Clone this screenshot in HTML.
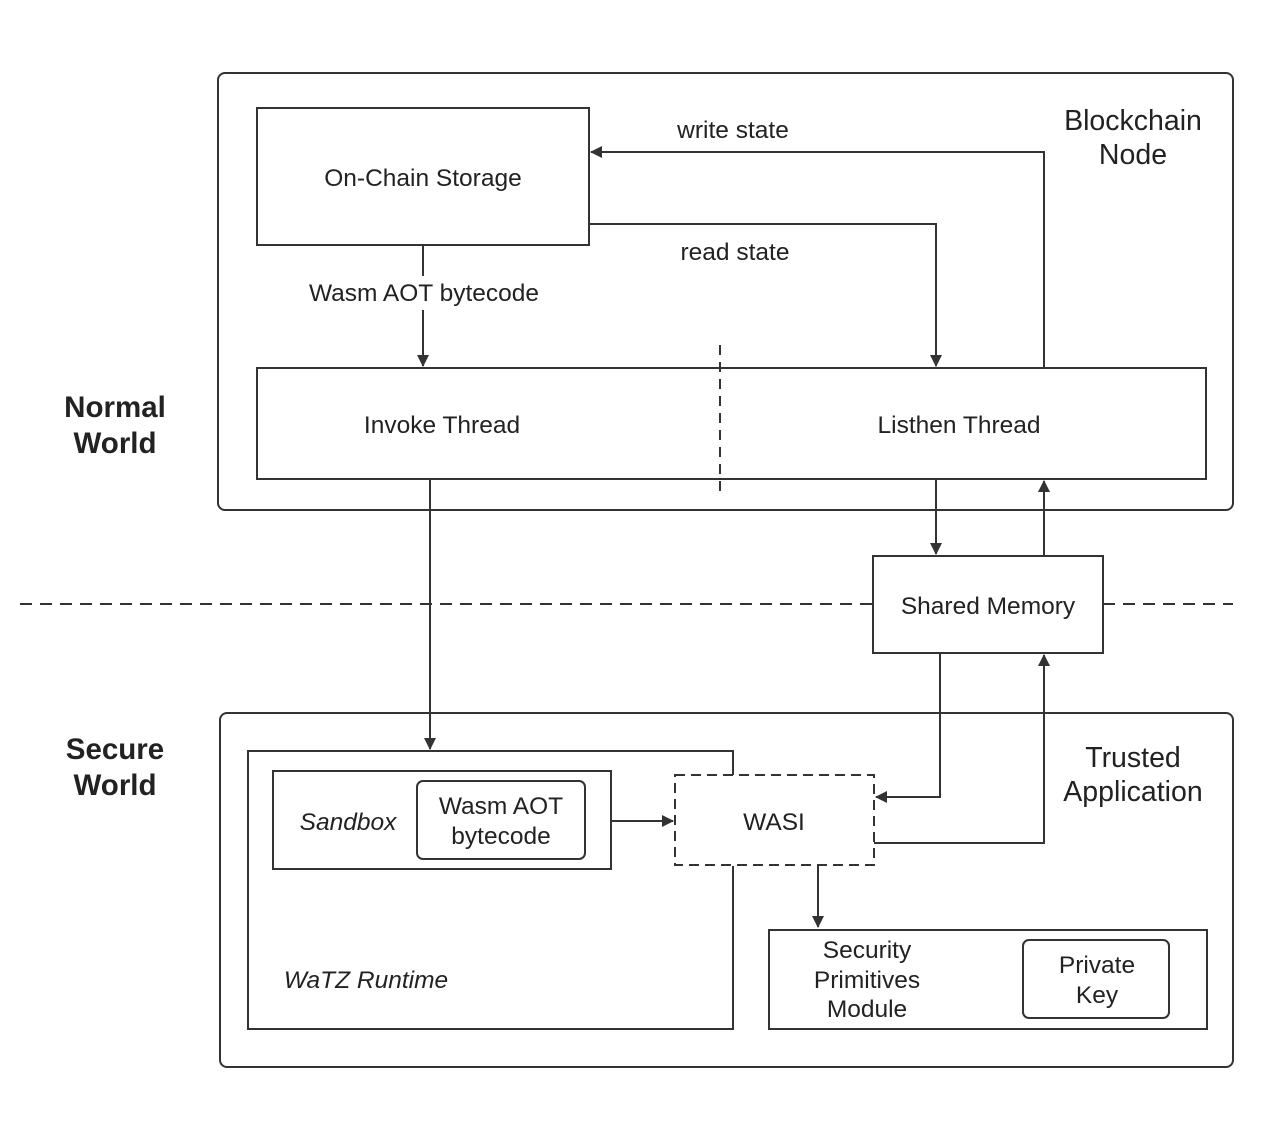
<!DOCTYPE html>
<html><head><meta charset="utf-8"><style>body{margin:0;background:#fff}svg{display:block}text{font-family:"Liberation Sans","DejaVu Sans",sans-serif;fill:#222}</style></head><body>
<svg width="1288" height="1124" viewBox="0 0 1288 1124" xmlns="http://www.w3.org/2000/svg">
<defs><marker id="a" markerWidth="12" markerHeight="12" refX="11" refY="6" orient="auto" markerUnits="userSpaceOnUse"><path d="M0,0 L12,6 L0,12 z" fill="#333"/></marker></defs>
<g fill="none" stroke="#333" stroke-width="2">
<rect x="218" y="73" width="1015" height="437" rx="7"/>
<rect x="257" y="108" width="332" height="137"/>
<rect x="257" y="368" width="949" height="111"/>
<line x1="720" y1="345" x2="720" y2="492" stroke-dasharray="10,7"/>
<polyline points="1044,368 1044,152 591,152" marker-end="url(#a)"/>
<polyline points="589,224 936,224 936,366" marker-end="url(#a)"/>
<line x1="423" y1="245" x2="423" y2="276"/>
<line x1="423" y1="310" x2="423" y2="366" marker-end="url(#a)"/>
<line x1="20" y1="604" x2="873" y2="604" stroke-dasharray="12,8"/>
<line x1="1103" y1="604" x2="1233" y2="604" stroke-dasharray="12,8"/>
<rect x="873" y="556" width="230" height="97"/>
<line x1="936" y1="479" x2="936" y2="554" marker-end="url(#a)"/>
<line x1="1044" y1="556" x2="1044" y2="481" marker-end="url(#a)"/>
<line x1="430" y1="479" x2="430" y2="749" marker-end="url(#a)"/>
<rect x="220" y="713" width="1013" height="354" rx="7"/>
<polyline points="733,775 733,751 248,751 248,1029 733,1029 733,866"/>
<rect x="273" y="771" width="338" height="98"/>
<rect x="417" y="781" width="168" height="78" rx="6"/>
<line x1="611" y1="821" x2="673" y2="821" marker-end="url(#a)"/>
<rect x="675" y="775" width="199" height="90" stroke-dasharray="10,6"/>
<polyline points="940,653 940,797 876,797" marker-end="url(#a)"/>
<polyline points="874,843 1044,843 1044,655" marker-end="url(#a)"/>
<line x1="818" y1="865" x2="818" y2="927" marker-end="url(#a)"/>
<rect x="769" y="930" width="438" height="99"/>
<rect x="1023" y="940" width="146" height="78" rx="6"/>
</g>
<g font-size="24.5" text-anchor="middle">
<text x="423" y="186">On-Chain Storage</text>
<text x="733" y="138">write state</text>
<text x="735" y="260">read state</text>
<text x="424" y="301">Wasm AOT bytecode</text>
<text x="442" y="433">Invoke Thread</text>
<text x="959" y="433">Listhen Thread</text>
<text x="988" y="614">Shared Memory</text>
<text x="348" y="830" font-style="italic">Sandbox</text>
<text x="501" y="814">Wasm AOT</text>
<text x="501" y="844">bytecode</text>
<text x="774" y="830">WASI</text>
<text x="366" y="988" font-style="italic">WaTZ Runtime</text>
<text x="867" y="958">Security</text>
<text x="867" y="988">Primitives</text>
<text x="867" y="1017">Module</text>
<text x="1097" y="973">Private</text>
<text x="1097" y="1003">Key</text>
</g>
<g font-size="28.5" text-anchor="middle">
<text x="1133" y="130">Blockchain</text>
<text x="1133" y="164">Node</text>
<text x="1133" y="767">Trusted</text>
<text x="1133" y="801">Application</text>
<text x="115" y="417" font-weight="bold" font-size="29.5">Normal</text>
<text x="115" y="453" font-weight="bold" font-size="29.5">World</text>
<text x="115" y="759" font-weight="bold" font-size="29.5">Secure</text>
<text x="115" y="795" font-weight="bold" font-size="29.5">World</text>
</g>
</svg>
</body></html>
